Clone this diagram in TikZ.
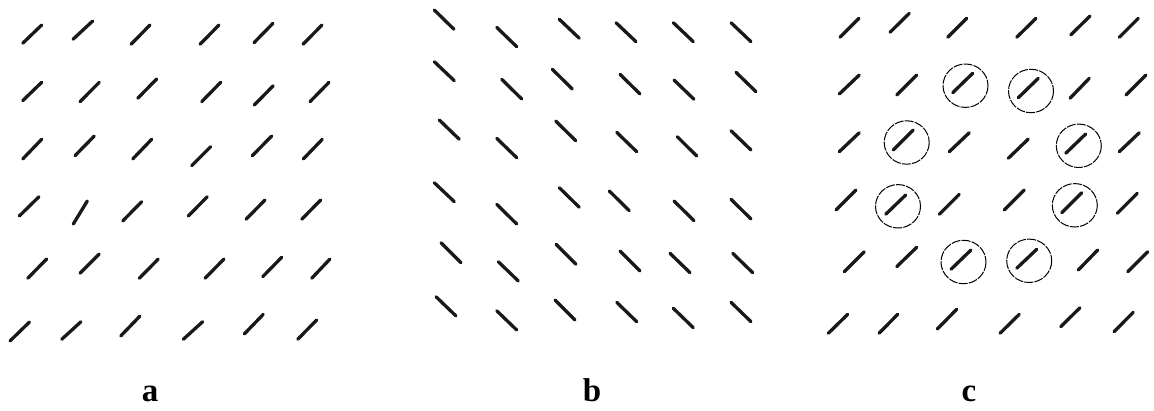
\documentclass[tikz,border=0pt]{standalone}
\usepackage{fontspec}
\setmainfont{Liberation Serif}
\begin{document}
\begin{tikzpicture}[x=1pt,y=-1pt,
  bar/.style={line width=3.3pt,line cap=round,black!90},
  ring/.style={line width=1pt,black,dash pattern=on 9pt off 1.2pt},
  lbl/.style={anchor=base,inner sep=0pt,font=\fontsize{33}{33}\selectfont\bfseries}]
\useasboundingbox[fill=white] (0,0) rectangle (1154,410);
% panel a
\foreach \xa/\ya/\xb/\yb in {
 22.7/43.3/41.7/25, 73/39.3/92.7/21, 131/44.3/150/25, 200/44.3/219/25, 254/42.7/273/23.3, 303/44.3/322/25,
 22.7/100.7/41.7/82.3, 80/101.7/99.3/82.3, 137.7/98.3/156.7/79, 201.7/101.7/220.7/82.3, 254.3/105/273.3/85.7, 310/101.7/329/82.3,
 22.7/159/41.7/139.3, 75/155.7/94.3/136, 132.7/159/151.7/139.3, 191.7/165.7/210.7/146.7, 252.3/155.7/271.7/136, 303.3/159/322.3/139.3,
 19.3/216/39/196.7, 73.3/224/87.3/201, 122.7/221/141.7/201.7, 188.3/216/207.3/196.7, 246/219.3/265/200, 301.7/219.3/320.7/200,
 27.7/278.3/46.7/259, 80/273.3/99.3/254, 139.3/278.3/158.3/259, 205/278.3/224/259, 262.7/276.7/281.7/257.3, 311.7/278.3/330/259,
 10/341/29.5/322, 61.7/339.3/81/321.7, 120.7/336/140/316, 183.3/339.3/202.7/321.7, 244.3/334/263.3/314.3, 297.7/339.3/316.7/320}
 \draw[bar] (\xa,\ya) -- (\xb,\yb);
% panel b
\foreach \xa/\ya/\xb/\yb in {
 434.3/10/454/29.3, 496.7/27.3/516.7/46.7, 559.3/19.3/579.3/38.3, 616/22.7/636/41.7, 673.3/22.7/693.3/41.7, 731/22.7/751/41.7,
 434.3/61.7/454.3/80.7, 501.7/79.3/521.7/99, 552.3/69.3/572.3/89, 620/74.3/640/94, 674/80/694/99.3, 736/72.3/756/91.7,
 439.3/120/459.3/139.3, 496.7/138.3/516.7/157.7, 555.7/121/575.7/140.7, 616.7/132.3/636.7/151.7, 677.3/136.7/696.7/156, 731/130.7/751/150,
 434.3/182.7/454.3/201.7, 496.7/204.3/516.7/224, 559.3/187.7/579.3/207.3, 609.3/191/629.3/210.7, 674/201/694/220.7, 731/199.3/751/219,
 441/242.7/461/262.7, 498.3/261.7/518.3/281, 556/244.3/576/264.3, 620/251/640/271, 670/253.3/690/272.7, 732.7/253.3/752.7/272.7,
 436/296.7/456/316, 496.7/310.7/516.7/330, 555/300/575/320, 616.7/302.3/636.7/321.7, 673.3/308.3/693.3/327.7, 731/302.3/751/321.7}
 \draw[bar] (\xa,\ya) -- (\xb,\yb);
% panel c
\foreach \xa/\ya/\xb/\yb in {
 840/37.3/859/18.3, 890/32.3/909.3/13.3, 947.7/37.3/966.7/18.3, 1016.7/37.3/1036/18.3, 1070.7/35/1090/16, 1119.3/37.3/1138.3/18.3,
 839.3/94/859.3/75, 896.7/95/916.7/75, 952.7/92.7/972.7/73.3, 1018.3/97.7/1038.3/78.3, 1070/98.3/1089.3/78.3, 1126/95/1146/75,
 839.3/151.7/859.3/132.7, 893.3/150/913.3/130, 949.3/151.7/969.3/132.7, 1008.3/158.3/1028.3/139, 1065.7/153.3/1085.7/134, 1119.3/151.7/1139.3/132.7,
 836/210/856/190, 885.7/214.3/905.7/195, 939.3/214.3/959.3/194.3, 1004.3/210/1024.3/190, 1061.7/212.7/1081.7/192.7, 1117.3/213.3/1137.3/193.3,
 844.3/271.7/864.3/251.7, 896.7/266.7/916.7/247.3, 951/269.3/971/250, 1016.7/268.3/1036.7/249.3, 1078.3/270/1097.7/250, 1127.7/271.7/1147.7/251.7,
 828.3/333.3/847.7/314.3, 879/333.3/897.7/314.3, 937.3/329/956.7/309.3, 1000/333.3/1019.3/314.3, 1060.7/326.7/1080/307.7, 1114/331.7/1133.3/312.3}
 \draw[bar] (\xa,\ya) -- (\xb,\yb);
\foreach \cx/\cy in {965.5/85.7, 1031/91, 906.7/142.5, 1078.8/145.8, 898/206.3, 1074.8/205.3, 963.5/262, 1029.2/260.8}
 \draw[ring] (\cx,\cy) ellipse [x radius=22.5, y radius=21.7];
% labels
\node[lbl] (la) at (150,401) {a};
\node[lbl] (lb) at (592,401) {b};
\node[lbl] (lc) at (969,401) {c};
\end{tikzpicture}
\end{document}
